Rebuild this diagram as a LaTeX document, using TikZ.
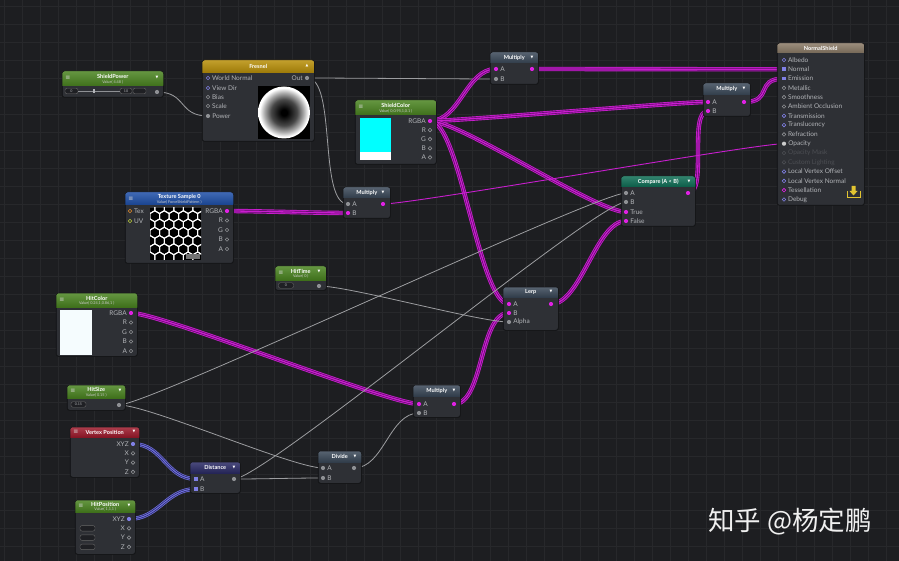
\documentclass[tikz,border=0pt]{standalone}
\usepackage{fontspec}
\setmainfont{Lato}
\newfontfamily\symfont{DejaVu Sans}
\newfontfamily\cjkfont{Noto Sans CJK SC}
\usetikzlibrary{positioning,backgrounds}

\definecolor{canvasbg}{HTML}{1D1E21}
\definecolor{gridline}{HTML}{27282B}
\definecolor{bodygray}{HTML}{2E3035}
\definecolor{boxedge}{HTML}{141517}
\definecolor{lblgray}{HTML}{B2B4B8}
\definecolor{dimgray}{HTML}{4C4E53}
\definecolor{portgray}{HTML}{8E9094}
\definecolor{portmag}{HTML}{E021E4}
\definecolor{portblue}{HTML}{8080E6}
\definecolor{portorange}{HTML}{E08A2A}
\definecolor{portlime}{HTML}{B8C83A}
\definecolor{wiremag}{HTML}{C81ECE}
\definecolor{wiredark}{HTML}{5C0C66}
\definecolor{wireblue}{HTML}{6E6EDC}
\definecolor{wirebluedark}{HTML}{26265E}
\definecolor{wiregray}{HTML}{9C9DA0}
\definecolor{hdrgreen}{HTML}{4A8420}
\definecolor{hdrslate}{HTML}{3A4858}
\definecolor{hdrfresnel}{HTML}{B88F08}
\definecolor{hdrtex}{HTML}{1E4FA8}
\definecolor{hdrred}{HTML}{9E1A2C}
\definecolor{hdrteal}{HTML}{0E6E55}
\definecolor{hdrnavy}{HTML}{2B2B66}
\definecolor{hdrtan}{HTML}{8A7A66}
\definecolor{fieldfill}{HTML}{1F2024}
\definecolor{iconyellow}{HTML}{E2C431}
\definecolor{swatchcyan}{HTML}{00FFFF}
\colorlet{fresdark}{black!72}
\colorlet{freslight}{black!32}

\pgfdeclarelayer{canvas}
\pgfdeclarelayer{wires}
\pgfsetlayers{canvas,wires,main}

\pgfdeclareradialshading{fresnelball}{\pgfpoint{0bp}{0bp}}{color(0bp)=(black); color(3bp)=(black); color(12.5bp)=(fresdark); color(19bp)=(freslight); color(23.5bp)=(white); color(50bp)=(white)}

\tikzset{
  boxframe/.style={rectangle, rounded corners=2.5pt, fill=bodygray, draw=boxedge, line width=0.5pt, inner sep=0pt, anchor=north west},
  hdrtext/.style={text=white, font=\bfseries\fontsize{5.6}{6}\selectfont, inner sep=0pt},
  subtext/.style={text=white!80!black, font=\fontsize{3.8}{4}\selectfont, inner sep=0pt},
  plbl/.style={text=lblgray, font=\fontsize{6.5}{7}\selectfont, inner sep=0.6pt, label distance=1.2pt},
  plbldim/.style={plbl, text=dimgray},
  dropmark/.style={text=white, font=\symfont\fontsize{3.6}{4}\selectfont, inner sep=0pt},
  menumark/.style={text=white!85!black, font=\symfont\fontsize{6}{6}\selectfont, inner sep=0pt},
  port/.style={circle, inner sep=0pt, minimum size=4.2pt},
  pmag/.style={port, fill=portmag},
  pgray/.style={port, fill=portgray},
  pblue/.style={port, fill=portblue},
  pbluesq/.style={rectangle, inner sep=0pt, minimum size=3.8pt, fill=portblue},
  popen/.style={port, minimum size=3.6pt, draw=portgray, line width=0.6pt, fill=bodygray},
  popenblue/.style={popen, draw=portblue},
  popenmag/.style={popen, draw=portmag},
  popendim/.style={popen, draw=dimgray},
  field/.style={draw=black!60, fill=fieldfill, rounded corners=2pt, line width=0.4pt, inner sep=0pt, minimum height=5.5pt, text=lblgray, font=\fontsize{3.6}{4}\selectfont},
  slider/.style={draw=portgray, line width=0.5pt},
  floatwire/.style={draw=wiregray, line width=0.8pt},
  thinwire/.style={draw=wiremag, line width=0.9pt},
  vecwire/.style={draw=wiremag, line width=4.4pt, postaction={draw=wiredark, line width=2.6pt}, postaction={draw=wiremag, line width=1.3pt}},
  xyzwire/.style={draw=wireblue, line width=4pt, postaction={draw=wirebluedark, line width=2.4pt}, postaction={draw=wireblue, line width=1.1pt}}
}

% frame of one editor node: name, x, y, width, height, header colour, header height
\newcommand{\nodeframe}[7]{%
  \node[boxframe, minimum width=#4, minimum height=#5] (#1) at (#2,#3) {};
  \begin{scope}
    \clip[rounded corners=2.5pt] (#1.north west) rectangle (#1.south east);
    \shade[top color=#6!85!white, bottom color=#6!85!black] (#1.north west) rectangle ([yshift=-#7]#1.north east);
  \end{scope}
  \draw[boxedge, line width=0.5pt, rounded corners=2.5pt] (#1.north west) rectangle (#1.south east);
}
\newcommand{\optitle}[3]{\node[hdrtext] at ([yshift=-#2/2]#1.north) {#3};}
\newcommand{\proptitle}[4]{%
  \node[hdrtext] at ([yshift=-#2*0.36]#1.north) {#3};
  \node[subtext] at ([yshift=-#2*0.76]#1.north) {#4};}
\newcommand{\wire}[4][30]{\draw[#2] (#3.center) .. controls +(#1,0) and +(-#1,0) .. (#4.center);}

\begin{document}
\begin{tikzpicture}[x=1pt,y=-1pt]
\useasboundingbox (0,0) rectangle (899,561);
\begin{pgfonlayer}{canvas}
\fill[canvasbg] (0,0) rectangle (899,561);
\foreach \gx in {4,22,...,899} \draw[gridline, line width=0.5pt] (\gx,0) -- (\gx,561);
\foreach \gy in {6,24,...,561} \draw[gridline, line width=0.5pt] (0,\gy) -- (899,\gy);
\end{pgfonlayer}

% ShieldPower
\nodeframe{shieldpower}{62}{71}{101}{26}{hdrgreen}{15}
\proptitle{shieldpower}{15}{ShieldPower}{Value( 4.48 )}
\node[menumark] at (68,78) {≡};
\node[dropmark] at (157,78) {▼};
\node[field, minimum width=13pt] (sp-lo) at (71.5,91) {0};
\node[field, minimum width=12pt] (sp-hi) at (126,91) {10};
\node[field, minimum width=13pt] (sp-val) at (139.5,91) {};
\draw[slider] (sp-lo) -- (sp-hi);
\fill[lblgray] (93,89) rectangle (95,93);
\node[pgray] (sp-out) at (157,92) {};

% Fresnel
\nodeframe{fresnel}{202}{60}{112}{81}{hdrfresnel}{13}
\optitle{fresnel}{13}{Fresnel}
\node[dropmark] at (307,66) {▲};
\node[popenblue, label={[plbl]0:World Normal}] (fr-wn) at (208,78) {};
\node[popenblue, label={[plbl]0:View Dir}] (fr-vd) at (208,88) {};
\node[popen, label={[plbl]0:Bias}] (fr-bias) at (208,97) {};
\node[popen, label={[plbl]0:Scale}] (fr-scale) at (208,106) {};
\node[pgray, label={[plbl]0:Power}] (fr-pow) at (208,116) {};
\node[pgray, label={[plbl]180:Out}] (fr-out) at (307,78) {};
\fill[black] (258,86) rectangle (310,139);
\shade[shading=fresnelball] (284,112.5) circle (26);

% top Multiply
\nodeframe{multop}{490}{52}{48}{32}{hdrslate}{11}
\optitle{multop}{11}{Multiply}
\node[dropmark] at (532,57.5) {▼};
\node[pmag, label={[plbl]0:A}] (mult-a) at (496,69) {};
\node[pgray, label={[plbl]0:B}] (mult-b) at (496,79) {};
\node[pmag] (mult-out) at (532,69) {};

% ShieldColor
\nodeframe{shieldcolor}{355}{100}{81}{64}{hdrgreen}{15}
\proptitle{shieldcolor}{15}{ShieldColor}{Value( 0,0.95,1,0.1 )}
\node[menumark] at (361,107) {≡};
\fill[swatchcyan] (360,118) rectangle (391,152);
\fill[white] (360,152) rectangle (391,160);
\node[pmag, label={[plbl]180:RGBA}] (sc-rgba) at (430,121) {};
\foreach \ch [count=\k] in {R,G,B,A}
  \node[popen, label={[plbl]180:\ch}] (sc-\ch) at (430,{121+9.1*\k}) {};

% NormalShield
\nodeframe{normalshield}{777}{43}{87}{162}{hdrtan}{10}
\optitle{normalshield}{10}{NormalShield}
\node[popenblue, label={[plbl]0:Albedo}] (ns-albedo) at (784,60) {};
\node[pbluesq, label={[plbl]0:Normal}] (ns-normal) at (784,69.3) {};
\node[pbluesq, label={[plbl]0:Emission}] (ns-emission) at (784,78.6) {};
\node[popen, label={[plbl]0:Metallic}] (ns-metallic) at (784,87.9) {};
\node[popen, label={[plbl]0:Smoothness}] (ns-smooth) at (784,97.2) {};
\node[popen, label={[plbl]0:Ambient Occlusion}] (ns-ao) at (784,106.5) {};
\node[popenblue, label={[plbl]0:Transmission}] (ns-transm) at (784,115.8) {};
\node[popenblue, label={[plbl]0:Translucency}] (ns-transl) at (784,125.1) {};
\node[popen, label={[plbl]0:Refraction}] (ns-refr) at (784,134.4) {};
\node[pgray, fill=white!80!black, label={[plbl]0:Opacity}] (ns-opacity) at (784,143.7) {};
\node[popendim, label={[plbldim]0:Opacity Mask}] (ns-mask) at (784,153) {};
\node[popendim, label={[plbldim]0:Custom Lighting}] (ns-custom) at (784,162.3) {};
\node[popenblue, label={[plbl]0:Local Vertex Offset}] (ns-lvo) at (784,171.6) {};
\node[popenblue, label={[plbl]0:Local Vertex Normal}] (ns-lvn) at (784,180.9) {};
\node[popenmag, label={[plbl]0:Tessellation}] (ns-tess) at (784,190.2) {};
\node[popenblue, label={[plbl]0:Debug}] (ns-debug) at (784,199.5) {};
\draw[iconyellow, line width=1pt] (847,191) -- (847,198) -- (860,198) -- (860,191);
\fill[iconyellow] (851.5,186) rectangle (855.5,191) (849.5,191) -- (857.5,191) -- (853.5,195.5) -- cycle;

% right Multiply
\nodeframe{mulright}{703}{83}{47}{33}{hdrslate}{12}
\optitle{mulright}{12}{Multiply}
\node[dropmark] at (744,89) {▼};
\node[pmag, label={[plbl]0:A}] (mulr-a) at (708,102) {};
\node[pmag, label={[plbl]0:B}] (mulr-b) at (708,111) {};
\node[pmag] (mulr-out) at (744,102) {};

% Compare
\nodeframe{compare}{621}{176}{74}{50}{hdrteal}{11}
\optitle{compare}{11}{Compare (A < B)}
\node[dropmark] at (689,181.5) {▼};
\node[pgray, label={[plbl]0:A}] (cmp-a) at (626,193) {};
\node[pgray, label={[plbl]0:B}] (cmp-b) at (626,202) {};
\node[pmag, label={[plbl]0:True}] (cmp-true) at (626,212) {};
\node[pmag, label={[plbl]0:False}] (cmp-false) at (626,221) {};
\node[pmag] (cmp-out) at (688,193) {};

% Texture Sample 0
\nodeframe{texsample}{125}{192}{108}{71}{hdrtex}{13}
\proptitle{texsample}{13}{Texture Sample 0}{Value( ForceShieldPattern )}
\node[menumark] at (131,198.5) {≡};
\node[popen, draw=portorange, label={[plbl]0:Tex}] (tex-tex) at (130,211) {};
\node[popen, draw=portlime, label={[plbl]0:UV}] (tex-uv) at (130,221) {};
\node[pmag, label={[plbl]180:RGBA}] (tex-rgba) at (227,211) {};
\foreach \ch [count=\k] in {R,G,B,A}
  \node[popen, label={[plbl]180:\ch}] (tex-\ch) at (227,{211+9.5*\k}) {};
\begin{scope}
  \clip (150,208) rectangle (201,260);
  \fill[black] (150,208) rectangle (201,260);
  \foreach \r in {0,...,6} \foreach \c in {-1,...,5} {
    \pgfmathsetmacro\hx{150+9.53*\c+4.76*mod(\r,2)}
    \pgfmathsetmacro\hy{208+8.25*\r}
    \draw[white, line width=1pt] (\hx,\hy) +(30:5.5) -- +(90:5.5) -- +(150:5.5) -- +(210:5.5) -- +(270:5.5) -- +(330:5.5) -- cycle;
  }
  \fill[black!55] (186,254) rectangle (200,259.5);
\end{scope}

% middle Multiply
\nodeframe{mulmid}{343}{187}{47}{31}{hdrslate}{11}
\optitle{mulmid}{11}{Multiply}
\node[dropmark] at (383,192.5) {▼};
\node[pgray, label={[plbl]0:A}] (mulm-a) at (348,204) {};
\node[pmag, label={[plbl]0:B}] (mulm-b) at (348,213) {};
\node[pmag] (mulm-out) at (383,204) {};

% HitTime
\nodeframe{hittime}{275}{266}{51}{24}{hdrgreen}{14}
\proptitle{hittime}{14}{HitTime}{Value( 0 )}
\node[menumark] at (281,273) {≡};
\node[dropmark] at (319,272) {▼};
\node[field, minimum width=15pt] (ht-val) at (286,285.5) {0};
\node[pgray] (ht-out) at (319,286) {};

% HitColor
\nodeframe{hitcolor}{56}{293}{81}{63}{hdrgreen}{14}
\proptitle{hitcolor}{14}{HitColor}{Value( 0.24,1,0.86,1 )}
\node[menumark] at (62,300) {≡};
\fill[white!96!cyan] (60,310) rectangle (92,355);
\node[pmag, label={[plbl]180:RGBA}] (hc-rgba) at (131,313) {};
\foreach \ch [count=\k] in {R,G,B,A}
  \node[popen, label={[plbl]180:\ch}] (hc-\ch) at (131,{313+9.5*\k}) {};

% Lerp
\nodeframe{lerp}{503}{287}{55}{43}{hdrslate}{10}
\optitle{lerp}{10}{Lerp}
\node[dropmark] at (551,292) {▼};
\node[pmag, label={[plbl]0:A}] (lerp-a) at (509,304) {};
\node[pmag, label={[plbl]0:B}] (lerp-b) at (509,313) {};
\node[pgray, label={[plbl]0:Alpha}] (lerp-alpha) at (509,322) {};
\node[pmag] (lerp-out) at (551,304) {};

% HitSize
\nodeframe{hitsize}{67}{385}{58}{25}{hdrgreen}{13}
\proptitle{hitsize}{13}{HitSize}{Value( 0.15 )}
\node[menumark] at (73,391) {≡};
\node[dropmark] at (120,391) {▼};
\node[field, minimum width=15pt] (hs-val) at (78.5,404.5) {0.15};
\node[pgray] (hs-out) at (119,405) {};

% bottom Multiply
\nodeframe{mulbottom}{413}{385}{47}{32}{hdrslate}{11}
\optitle{mulbottom}{11}{Multiply}
\node[dropmark] at (454,390.5) {▼};
\node[pmag, label={[plbl]0:A}] (mulb-a) at (419,404) {};
\node[pgray, label={[plbl]0:B}] (mulb-b) at (419,413) {};
\node[pmag] (mulb-out) at (454,404) {};

% Vertex Position
\nodeframe{vertexpos}{70}{427}{69}{50}{hdrred}{10}
\optitle{vertexpos}{10}{Vertex Position}
\node[menumark] at (76,432) {≡};
\node[dropmark] at (134,432) {▼};
\node[pblue, label={[plbl]180:XYZ}] (vp-xyz) at (133,444) {};
\foreach \ch [count=\k] in {X,Y,Z}
  \node[popen, label={[plbl]180:\ch}] (vp-\ch) at (133,{444+9.3*\k}) {};

% Distance
\nodeframe{distance}{190}{462}{50}{31}{hdrnavy}{11}
\optitle{distance}{11}{Distance}
\node[dropmark] at (234,467.5) {▼};
\node[pbluesq, label={[plbl]0:A}] (dist-a) at (196,479) {};
\node[pbluesq, label={[plbl]0:B}] (dist-b) at (196,489) {};
\node[pgray] (dist-out) at (234,479) {};

% Divide
\nodeframe{divide}{318}{451}{43}{32}{hdrslate}{11}
\optitle{divide}{11}{Divide}
\node[dropmark] at (355,456.5) {▼};
\node[pgray, label={[plbl]0:A}] (div-a) at (323,468) {};
\node[pgray, label={[plbl]0:B}] (div-b) at (323,478) {};
\node[pgray] (div-out) at (354,468) {};

% HitPosition
\nodeframe{hitposition}{75}{500}{60}{54}{hdrgreen}{12}
\proptitle{hitposition}{12}{HitPosition}{Value( 1,1,1 )}
\node[menumark] at (81,506) {≡};
\node[dropmark] at (129,506) {▼};
\node[pblue, label={[plbl]180:XYZ}] (hp-xyz) at (129,519) {};
\foreach \ch [count=\k] in {X,Y,Z} {
  \node[popen, label={[plbl]180:\ch}] (hp-\ch) at (129,{519+9.3*\k}) {};
  \node[field, minimum width=15pt] (hp-f\k) at (87.5,{519+9.3*\k}) {};
}

% watermark
\node[text=white!94!black, font=\cjkfont\fontsize{26.5}{26.5}\selectfont, inner sep=0pt] (mark) at (790,521.5) {知乎 @杨定鹏};

\begin{pgfonlayer}{wires}
\wire{floatwire}{sp-out}{fr-pow}
\wire{floatwire}{fr-out}{mult-b}
\wire{floatwire}{fr-out}{mulm-a}
\wire{vecwire}{sc-rgba}{mult-a}
\wire{vecwire}{sc-rgba}{mulr-a}
\wire{vecwire}{sc-rgba}{cmp-true}
\wire{vecwire}{sc-rgba}{lerp-a}
\wire{vecwire}{mult-out}{ns-normal}
\wire{vecwire}{mulr-out}{ns-emission}
\wire[20]{vecwire}{cmp-out}{mulr-b}
\wire{vecwire}{lerp-out}{cmp-false}
\wire{vecwire}{mulb-out}{lerp-b}
\wire{vecwire}{tex-rgba}{mulm-b}
\wire{thinwire}{mulm-out}{ns-opacity}
\wire{vecwire}{hc-rgba}{mulb-a}
\wire{floatwire}{ht-out}{lerp-alpha}
\wire{floatwire}{hs-out}{cmp-a}
\wire{floatwire}{hs-out}{div-a}
\wire{floatwire}{dist-out}{cmp-b}
\wire{floatwire}{dist-out}{div-b}
\wire{floatwire}{div-out}{mulb-b}
\wire{xyzwire}{vp-xyz}{dist-a}
\wire{xyzwire}{hp-xyz}{dist-b}
\end{pgfonlayer}
\end{tikzpicture}
\end{document}
